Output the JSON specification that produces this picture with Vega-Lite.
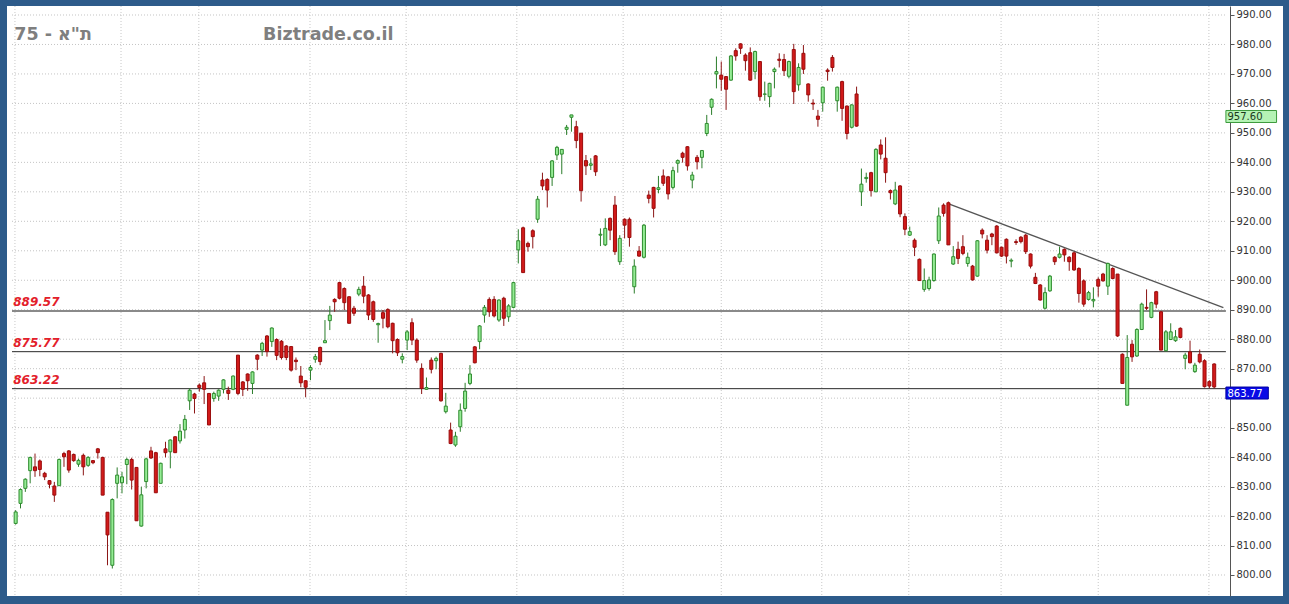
{
 "$schema": "https://vega.github.io/schema/vega-lite/v6.json",
 "width": 1276, "height": 590,
 "autosize": {"type": "none"},
 "padding": {"left": 7, "top": 6, "right": 6, "bottom": 8},
 "background": "#2d5b8a",
 "config": {"view": {"fill": "white", "stroke": null}, "font": "DejaVu Sans"},
 "datasets": {
  "candles": [
{"i":1,"o":817.5,"h":822.0,"l":817.1,"c":821.4},
{"i":2,"o":824.3,"h":829.4,"l":822.6,"c":829.0},
{"i":3,"o":829.4,"h":832.8,"l":828.2,"c":832.5},
{"i":4,"o":835.4,"h":840.1,"l":831.1,"c":839.9},
{"i":5,"o":836.7,"h":841.2,"l":833.3,"c":835.4},
{"i":6,"o":838.7,"h":839.2,"l":833.5,"c":835.8},
{"i":7,"o":834.5,"h":835.0,"l":832.2,"c":833.3},
{"i":8,"o":832.0,"h":832.2,"l":829.4,"c":830.8},
{"i":9,"o":830.2,"h":831.6,"l":824.8,"c":827.1},
{"i":10,"o":830.3,"h":839.5,"l":830.3,"c":839.2},
{"i":11,"o":841.2,"h":841.8,"l":836.7,"c":840.1},
{"i":12,"o":842.1,"h":842.4,"l":834.7,"c":835.6},
{"i":13,"o":840.9,"h":841.2,"l":838.4,"c":838.8},
{"i":14,"o":837.6,"h":839.5,"l":836.7,"c":838.9},
{"i":15,"o":840.6,"h":841.2,"l":833.8,"c":836.7},
{"i":16,"o":837.2,"h":840.3,"l":836.7,"c":839.9},
{"i":17,"o":838.8,"h":839.0,"l":837.6,"c":838.1},
{"i":18,"o":842.8,"h":843.1,"l":839.5,"c":841.5},
{"i":19,"o":839.9,"h":840.1,"l":827.1,"c":827.1},
{"i":20,"o":821.3,"h":821.3,"l":803.3,"c":813.6},
{"i":21,"o":803.3,"h":826.0,"l":802.2,"c":825.6},
{"i":22,"o":831.1,"h":836.5,"l":826.0,"c":833.9},
{"i":23,"o":831.3,"h":835.0,"l":827.7,"c":833.3},
{"i":24,"o":837.5,"h":839.8,"l":830.8,"c":839.2},
{"i":25,"o":839.2,"h":839.8,"l":829.0,"c":832.2},
{"i":26,"o":836.5,"h":836.5,"l":818.4,"c":818.4},
{"i":27,"o":816.6,"h":829.9,"l":816.4,"c":827.2},
{"i":28,"o":831.7,"h":839.8,"l":829.4,"c":839.4},
{"i":29,"o":842.1,"h":843.5,"l":839.4,"c":839.7},
{"i":30,"o":841.5,"h":841.8,"l":827.9,"c":827.9},
{"i":31,"o":831.1,"h":838.1,"l":831.1,"c":837.9},
{"i":32,"o":842.8,"h":845.2,"l":839.9,"c":841.5},
{"i":33,"o":841.8,"h":846.0,"l":836.2,"c":845.8},
{"i":34,"o":846.9,"h":847.1,"l":841.5,"c":841.5},
{"i":35,"o":845.5,"h":851.2,"l":844.6,"c":848.8},
{"i":36,"o":849.2,"h":854.3,"l":846.3,"c":852.8},
{"i":37,"o":859.1,"h":863.3,"l":856.0,"c":862.7},
{"i":38,"o":861.4,"h":861.8,"l":854.8,"c":859.9},
{"i":39,"o":864.4,"h":865.0,"l":862.2,"c":863.6},
{"i":40,"o":865.2,"h":867.5,"l":858.0,"c":863.0},
{"i":41,"o":861.6,"h":861.6,"l":850.9,"c":850.9},
{"i":42,"o":859.9,"h":862.2,"l":858.8,"c":861.6},
{"i":43,"o":860.7,"h":863.0,"l":859.1,"c":862.7},
{"i":44,"o":863.0,"h":866.4,"l":861.6,"c":866.2},
{"i":45,"o":862.7,"h":863.9,"l":859.4,"c":861.6},
{"i":46,"o":863.0,"h":867.7,"l":862.7,"c":867.5},
{"i":47,"o":874.6,"h":874.6,"l":861.0,"c":861.6},
{"i":48,"o":865.5,"h":865.8,"l":860.7,"c":863.0},
{"i":49,"o":868.2,"h":868.4,"l":862.5,"c":865.9},
{"i":50,"o":865.0,"h":869.1,"l":861.4,"c":868.9},
{"i":51,"o":874.6,"h":874.9,"l":869.5,"c":873.2},
{"i":52,"o":876.3,"h":879.1,"l":874.3,"c":878.6},
{"i":53,"o":881.1,"h":881.4,"l":874.1,"c":875.8},
{"i":54,"o":879.2,"h":884.0,"l":877.4,"c":883.8},
{"i":55,"o":879.9,"h":880.3,"l":872.9,"c":874.5},
{"i":56,"o":879.3,"h":879.7,"l":873.1,"c":873.8},
{"i":57,"o":877.7,"h":878.0,"l":872.9,"c":873.8},
{"i":58,"o":877.5,"h":877.7,"l":869.0,"c":869.5},
{"i":59,"o":872.9,"h":873.8,"l":869.5,"c":872.4},
{"i":60,"o":867.5,"h":870.9,"l":863.7,"c":865.2},
{"i":61,"o":865.9,"h":866.1,"l":860.3,"c":863.7},
{"i":62,"o":869.5,"h":871.2,"l":866.1,"c":870.4},
{"i":63,"o":873.2,"h":875.0,"l":872.0,"c":874.1},
{"i":64,"o":877.2,"h":877.5,"l":871.2,"c":872.4},
{"i":65,"o":878.8,"h":886.5,"l":878.8,"c":879.5},
{"i":66,"o":886.3,"h":891.3,"l":883.1,"c":888.2},
{"i":67,"o":893.5,"h":893.9,"l":889.3,"c":892.7},
{"i":68,"o":899.2,"h":899.5,"l":893.5,"c":893.9},
{"i":69,"o":897.2,"h":897.6,"l":889.9,"c":892.4},
{"i":70,"o":894.4,"h":894.6,"l":885.4,"c":885.4},
{"i":71,"o":890.5,"h":891.3,"l":887.9,"c":888.8},
{"i":72,"o":895.3,"h":897.8,"l":894.6,"c":896.9},
{"i":73,"o":898.0,"h":901.4,"l":892.2,"c":894.6},
{"i":74,"o":895.0,"h":895.3,"l":886.5,"c":888.2},
{"i":75,"o":892.7,"h":893.1,"l":885.9,"c":886.7},
{"i":76,"o":884.9,"h":885.6,"l":878.8,"c":885.3},
{"i":77,"o":889.0,"h":889.9,"l":883.7,"c":887.1},
{"i":78,"o":890.1,"h":890.5,"l":883.7,"c":884.2},
{"i":79,"o":885.4,"h":885.6,"l":875.2,"c":879.5},
{"i":80,"o":879.9,"h":880.3,"l":874.3,"c":875.4},
{"i":81,"o":873.2,"h":875.2,"l":871.8,"c":874.1},
{"i":82,"o":879.7,"h":883.1,"l":876.3,"c":882.5},
{"i":83,"o":885.6,"h":887.1,"l":878.0,"c":879.7},
{"i":84,"o":879.7,"h":880.3,"l":872.0,"c":872.9},
{"i":85,"o":870.1,"h":871.8,"l":861.4,"c":863.3},
{"i":86,"o":863.0,"h":867.0,"l":862.8,"c":863.6},
{"i":87,"o":872.9,"h":873.8,"l":868.4,"c":869.8},
{"i":88,"o":872.7,"h":874.1,"l":869.8,"c":873.5},
{"i":89,"o":875.2,"h":875.4,"l":858.8,"c":859.1},
{"i":90,"o":855.4,"h":861.8,"l":854.8,"c":857.3},
{"i":91,"o":849.2,"h":851.7,"l":844.4,"c":844.6},
{"i":92,"o":844.1,"h":848.6,"l":843.5,"c":847.1},
{"i":93,"o":850.3,"h":858.2,"l":848.6,"c":855.9},
{"i":94,"o":856.5,"h":865.2,"l":855.4,"c":862.4},
{"i":95,"o":865.0,"h":871.2,"l":864.4,"c":868.2},
{"i":96,"o":877.4,"h":877.7,"l":871.8,"c":872.0},
{"i":97,"o":879.2,"h":884.8,"l":876.6,"c":884.5},
{"i":98,"o":888.2,"h":891.6,"l":885.6,"c":890.8},
{"i":99,"o":893.5,"h":894.2,"l":887.6,"c":889.3},
{"i":100,"o":893.5,"h":894.6,"l":887.4,"c":887.9},
{"i":101,"o":886.5,"h":893.5,"l":885.9,"c":893.3},
{"i":102,"o":893.9,"h":894.4,"l":884.5,"c":887.1},
{"i":103,"o":887.6,"h":891.9,"l":885.9,"c":891.3},
{"i":104,"o":890.8,"h":899.5,"l":890.5,"c":899.2},
{"i":105,"o":910.3,"h":917.3,"l":905.7,"c":913.4},
{"i":106,"o":917.8,"h":918.2,"l":902.6,"c":902.6},
{"i":107,"o":912.5,"h":913.1,"l":909.7,"c":911.4},
{"i":108,"o":916.8,"h":917.3,"l":910.8,"c":914.8},
{"i":109,"o":920.7,"h":928.6,"l":919.5,"c":927.5},
{"i":110,"o":934.0,"h":936.5,"l":930.6,"c":932.0},
{"i":111,"o":934.2,"h":934.6,"l":924.7,"c":930.6},
{"i":112,"o":934.9,"h":940.8,"l":932.0,"c":940.5},
{"i":113,"o":942.5,"h":945.6,"l":940.8,"c":945.1},
{"i":114,"o":942.8,"h":944.4,"l":936.0,"c":944.4},
{"i":115,"o":951.2,"h":952.7,"l":949.3,"c":951.9},
{"i":116,"o":955.3,"h":956.1,"l":950.4,"c":956.1},
{"i":117,"o":952.1,"h":954.1,"l":944.8,"c":947.4},
{"i":118,"o":949.9,"h":949.9,"l":926.7,"c":930.4},
{"i":119,"o":940.6,"h":942.5,"l":935.7,"c":938.8},
{"i":120,"o":939.0,"h":941.4,"l":937.4,"c":939.5},
{"i":121,"o":942.2,"h":942.5,"l":935.4,"c":936.8},
{"i":122,"o":915.3,"h":917.6,"l":911.6,"c":915.6},
{"i":123,"o":912.0,"h":921.0,"l":911.6,"c":917.6},
{"i":124,"o":921.0,"h":921.3,"l":913.6,"c":917.0},
{"i":125,"o":925.5,"h":928.6,"l":908.6,"c":909.7},
{"i":126,"o":906.3,"h":915.3,"l":905.2,"c":914.2},
{"i":127,"o":920.7,"h":921.0,"l":914.2,"c":918.7},
{"i":128,"o":920.7,"h":921.3,"l":911.4,"c":914.5},
{"i":129,"o":897.8,"h":907.1,"l":895.5,"c":904.8},
{"i":130,"o":909.9,"h":911.6,"l":908.0,"c":908.2},
{"i":131,"o":907.8,"h":919.1,"l":907.4,"c":918.7},
{"i":132,"o":928.9,"h":930.4,"l":926.1,"c":927.8},
{"i":133,"o":931.5,"h":931.7,"l":921.3,"c":924.4},
{"i":134,"o":930.8,"h":935.4,"l":929.5,"c":931.4},
{"i":135,"o":935.4,"h":937.6,"l":932.0,"c":932.9},
{"i":136,"o":935.1,"h":935.4,"l":927.4,"c":929.3},
{"i":137,"o":931.5,"h":938.5,"l":930.8,"c":937.2},
{"i":138,"o":939.7,"h":941.0,"l":936.5,"c":940.6},
{"i":139,"o":943.1,"h":943.6,"l":939.9,"c":941.7},
{"i":140,"o":945.3,"h":945.5,"l":937.2,"c":938.8},
{"i":141,"o":934.0,"h":936.8,"l":931.2,"c":935.7},
{"i":142,"o":941.7,"h":942.5,"l":937.6,"c":940.2},
{"i":143,"o":941.7,"h":944.2,"l":938.0,"c":944.0},
{"i":144,"o":949.8,"h":956.1,"l":948.9,"c":953.2},
{"i":145,"o":958.7,"h":961.7,"l":956.1,"c":961.4},
{"i":146,"o":970.0,"h":975.9,"l":965.1,"c":970.8},
{"i":147,"o":969.6,"h":974.2,"l":964.3,"c":968.2},
{"i":148,"o":969.1,"h":969.3,"l":957.8,"c":964.8},
{"i":149,"o":967.9,"h":976.4,"l":967.7,"c":976.1},
{"i":150,"o":977.9,"h":978.7,"l":974.5,"c":976.1},
{"i":151,"o":980.2,"h":980.4,"l":976.8,"c":978.7},
{"i":152,"o":976.4,"h":977.0,"l":971.1,"c":974.5},
{"i":153,"o":977.2,"h":979.0,"l":967.7,"c":967.9},
{"i":154,"o":970.8,"h":977.9,"l":968.2,"c":977.6},
{"i":155,"o":974.2,"h":974.2,"l":960.9,"c":962.3},
{"i":156,"o":963.1,"h":967.4,"l":960.9,"c":963.2},
{"i":157,"o":962.3,"h":967.0,"l":958.7,"c":966.8},
{"i":158,"o":970.8,"h":972.2,"l":965.1,"c":971.6},
{"i":159,"o":975.0,"h":977.0,"l":972.2,"c":974.6},
{"i":160,"o":974.9,"h":976.8,"l":969.3,"c":971.1},
{"i":161,"o":969.2,"h":974.5,"l":968.5,"c":974.2},
{"i":162,"o":978.3,"h":980.2,"l":959.8,"c":964.0},
{"i":163,"o":966.3,"h":973.6,"l":964.3,"c":972.2},
{"i":164,"o":977.0,"h":979.8,"l":970.0,"c":971.6},
{"i":165,"o":966.6,"h":966.8,"l":960.6,"c":962.9},
{"i":166,"o":960.1,"h":961.4,"l":957.8,"c":959.8},
{"i":167,"o":955.7,"h":957.8,"l":952.1,"c":954.6},
{"i":168,"o":960.2,"h":965.7,"l":957.2,"c":965.5},
{"i":169,"o":971.3,"h":971.9,"l":967.7,"c":970.8},
{"i":170,"o":975.6,"h":976.4,"l":970.8,"c":972.2},
{"i":171,"o":960.9,"h":965.7,"l":957.2,"c":965.5},
{"i":172,"o":967.4,"h":967.7,"l":954.1,"c":958.3},
{"i":173,"o":959.1,"h":959.3,"l":947.8,"c":949.8},
{"i":174,"o":951.9,"h":959.7,"l":951.5,"c":959.5},
{"i":175,"o":963.2,"h":965.7,"l":952.1,"c":952.3},
{"i":176,"o":930.0,"h":937.9,"l":925.2,"c":932.6},
{"i":177,"o":934.5,"h":936.5,"l":933.1,"c":934.9},
{"i":178,"o":936.5,"h":936.8,"l":928.4,"c":930.4},
{"i":179,"o":930.0,"h":944.8,"l":930.0,"c":944.4},
{"i":180,"o":945.9,"h":947.8,"l":941.0,"c":942.8},
{"i":181,"o":941.4,"h":948.5,"l":933.1,"c":936.5},
{"i":182,"o":930.4,"h":930.8,"l":927.4,"c":929.7},
{"i":183,"o":925.9,"h":933.4,"l":925.5,"c":930.6},
{"i":184,"o":932.0,"h":932.3,"l":921.4,"c":922.5},
{"i":185,"o":921.6,"h":922.7,"l":915.3,"c":917.3},
{"i":186,"o":915.3,"h":918.2,"l":915.0,"c":916.5},
{"i":187,"o":913.6,"h":914.2,"l":908.2,"c":911.2},
{"i":188,"o":907.1,"h":907.4,"l":899.9,"c":899.9},
{"i":189,"o":896.9,"h":904.0,"l":896.1,"c":899.9},
{"i":190,"o":897.2,"h":901.2,"l":896.5,"c":900.1},
{"i":191,"o":899.9,"h":909.1,"l":899.5,"c":908.9},
{"i":192,"o":913.4,"h":924.7,"l":912.3,"c":921.8},
{"i":193,"o":925.5,"h":926.1,"l":921.6,"c":922.7},
{"i":194,"o":926.3,"h":926.7,"l":912.0,"c":912.0},
{"i":195,"o":905.5,"h":911.6,"l":905.2,"c":908.0},
{"i":196,"o":910.5,"h":913.1,"l":905.5,"c":907.4},
{"i":197,"o":911.4,"h":915.3,"l":908.5,"c":909.1},
{"i":198,"o":905.7,"h":909.4,"l":904.6,"c":907.8},
{"i":199,"o":904.8,"h":905.2,"l":899.9,"c":900.1},
{"i":200,"o":901.4,"h":913.6,"l":901.2,"c":913.4},
{"i":201,"o":917.0,"h":917.6,"l":914.2,"c":915.7},
{"i":202,"o":913.6,"h":915.3,"l":909.1,"c":910.2},
{"i":203,"o":915.7,"h":916.1,"l":911.9,"c":914.8},
{"i":204,"o":918.4,"h":918.7,"l":909.1,"c":909.3},
{"i":205,"o":911.2,"h":911.4,"l":907.9,"c":908.2},
{"i":206,"o":913.9,"h":914.2,"l":905.7,"c":908.2},
{"i":207,"o":906.5,"h":907.4,"l":904.4,"c":906.8},
{"i":208,"o":913.1,"h":913.9,"l":912.0,"c":912.8},
{"i":209,"o":914.6,"h":915.0,"l":912.5,"c":913.1},
{"i":210,"o":915.3,"h":915.7,"l":908.9,"c":909.7},
{"i":211,"o":908.9,"h":909.1,"l":904.0,"c":904.8},
{"i":212,"o":901.0,"h":902.5,"l":898.7,"c":898.9},
{"i":213,"o":898.4,"h":898.7,"l":893.1,"c":893.3},
{"i":214,"o":890.5,"h":897.6,"l":890.1,"c":895.8},
{"i":215,"o":896.4,"h":901.8,"l":896.1,"c":901.4},
{"i":216,"o":907.8,"h":908.2,"l":905.2,"c":906.3},
{"i":217,"o":907.8,"h":911.4,"l":907.4,"c":908.9},
{"i":218,"o":910.5,"h":910.8,"l":906.3,"c":908.6},
{"i":219,"o":907.8,"h":908.2,"l":903.2,"c":906.3},
{"i":220,"o":909.3,"h":909.7,"l":903.2,"c":903.5},
{"i":221,"o":904.0,"h":904.4,"l":892.4,"c":895.5},
{"i":222,"o":899.8,"h":900.3,"l":891.0,"c":891.9},
{"i":223,"o":893.5,"h":896.4,"l":893.1,"c":895.8},
{"i":224,"o":893.0,"h":897.6,"l":890.8,"c":893.5},
{"i":225,"o":900.3,"h":901.0,"l":894.4,"c":898.0},
{"i":226,"o":902.1,"h":902.5,"l":899.5,"c":899.8},
{"i":227,"o":898.0,"h":906.0,"l":895.0,"c":905.7},
{"i":228,"o":904.0,"h":904.4,"l":900.3,"c":900.6},
{"i":229,"o":902.1,"h":902.1,"l":880.8,"c":881.1},
{"i":230,"o":874.9,"h":875.2,"l":865.0,"c":865.0},
{"i":231,"o":857.6,"h":881.4,"l":857.6,"c":873.8},
{"i":232,"o":878.3,"h":879.7,"l":872.3,"c":874.0},
{"i":233,"o":874.3,"h":883.7,"l":874.0,"c":883.3},
{"i":234,"o":883.3,"h":892.4,"l":883.1,"c":891.9},
{"i":235,"o":890.8,"h":896.9,"l":889.9,"c":890.5},
{"i":236,"o":887.4,"h":892.7,"l":887.1,"c":892.4},
{"i":237,"o":896.1,"h":896.4,"l":890.5,"c":891.9},
{"i":238,"o":889.3,"h":889.6,"l":876.3,"c":876.3},
{"i":239,"o":876.1,"h":883.1,"l":875.8,"c":882.5},
{"i":240,"o":879.9,"h":885.4,"l":879.7,"c":882.5},
{"i":241,"o":879.5,"h":883.1,"l":879.1,"c":880.8},
{"i":242,"o":883.7,"h":884.0,"l":880.3,"c":880.6},
{"i":243,"o":873.5,"h":875.4,"l":869.8,"c":874.6},
{"i":244,"o":875.7,"h":879.5,"l":871.8,"c":872.0},
{"i":245,"o":869.0,"h":872.0,"l":868.6,"c":871.2},
{"i":246,"o":874.9,"h":876.5,"l":871.8,"c":872.3},
{"i":247,"o":872.7,"h":873.2,"l":863.6,"c":863.9},
{"i":248,"o":865.6,"h":866.1,"l":863.3,"c":864.1},
{"i":249,"o":871.6,"h":871.8,"l":863.3,"c":863.8}
  ]
 },
 "layer": [
  {
   "data": {"values": [{"v":800},{"v":810},{"v":820},{"v":830},{"v":840},{"v":850},{"v":860},{"v":870},{"v":880},{"v":890},{"v":900},{"v":910},{"v":920},{"v":930},{"v":940},{"v":950},{"v":960},{"v":970},{"v":980},{"v":990}]},
   "mark": {"type": "rule", "color": "#c4c4c4", "strokeWidth": 1, "strokeDash": [1, 2]},
   "encoding": {
    "x": {"datum": 0.2404, "type": "quantitative", "scale": {"domain": [0.2404, 262.2], "nice": false, "zero": false}, "axis": null},
    "x2": {"datum": 251.42},
    "y": {"field": "v", "type": "quantitative", "scale": {"domain": [792.875, 993.05], "nice": false, "zero": false},
      "axis": {"orient": "right", "offset": -53, "title": null, "grid": false, "values": [800,810,820,830,840,850,870,880,890,900,910,920,930,940,950,960,970,980,990], "format": ".2f", "labelFont": "DejaVu Sans", "labelFontSize": 10, "labelColor": "#333333", "tickColor": "#555555", "tickSize": 4, "labelPadding": 2, "domainColor": "#555555", "labelBaseline": "middle"}}
   }
  },
  {
   "data": {"values": [{"g":0.85},{"g":22.8},{"g":38.9},{"g":61.9},{"g":81.8},{"g":104.7},{"g":126.7},{"g":147.0},{"g":167.8},{"g":185.8},{"g":204.9},{"g":225.0},{"g":247.9}]},
   "mark": {"type": "rule", "color": "#c8c8c8", "strokeWidth": 1, "strokeDash": [1, 2]},
   "encoding": {
    "x": {"field": "g", "type": "quantitative", "scale": {"domain": [0.2404, 262.2], "nice": false, "zero": false}, "axis": null}
   }
  },
  {
   "data": {"values": [{"price": 889.57}]},
   "mark": {"type": "rule", "color": "#8a8a8a", "strokeWidth": 2},
   "encoding": {
    "x": {"datum": 0.2404, "type": "quantitative", "scale": {"domain": [0.2404, 262.2], "nice": false, "zero": false}, "axis": null},
    "x2": {"datum": 251.42},
    "y": {"field": "price", "type": "quantitative", "scale": {"domain": [792.875, 993.05], "nice": false, "zero": false},
      "axis": {"orient": "right", "offset": -53, "title": null, "grid": false, "values": [800,810,820,830,840,850,870,880,890,900,910,920,930,940,950,960,970,980,990], "format": ".2f", "labelFont": "DejaVu Sans", "labelFontSize": 10, "labelColor": "#333333", "tickColor": "#555555", "tickSize": 4, "labelPadding": 2, "domainColor": "#555555", "labelBaseline": "middle"}}
   }
  },
  {
   "data": {"values": [{"price": 875.77}, {"price": 863.22}]},
   "mark": {"type": "rule", "color": "#2a2a2a", "strokeWidth": 1},
   "encoding": {
    "x": {"datum": 0.2404, "type": "quantitative", "scale": {"domain": [0.2404, 262.2], "nice": false, "zero": false}, "axis": null},
    "x2": {"datum": 251.42},
    "y": {"field": "price", "type": "quantitative", "scale": {"domain": [792.875, 993.05], "nice": false, "zero": false},
      "axis": {"orient": "right", "offset": -53, "title": null, "grid": false, "values": [800,810,820,830,840,850,870,880,890,900,910,920,930,940,950,960,970,980,990], "format": ".2f", "labelFont": "DejaVu Sans", "labelFontSize": 10, "labelColor": "#333333", "tickColor": "#555555", "tickSize": 4, "labelPadding": 2, "domainColor": "#555555", "labelBaseline": "middle"}}
   }
  },
  {
   "data": {"values": [{"price": 889.57}, {"price": 875.77}, {"price": 863.22}]},
   "mark": {"type": "text", "align": "left", "baseline": "alphabetic", "dy": -4.5, "font": "DejaVu Sans", "fontSize": 12, "fontWeight": "bold", "fontStyle": "italic", "color": "#e3202a"},
   "encoding": {
    "x": {"datum": 0.5, "type": "quantitative", "scale": {"domain": [0.2404, 262.2], "nice": false, "zero": false}, "axis": null},
    "y": {"field": "price", "type": "quantitative", "scale": {"domain": [792.875, 993.05], "nice": false, "zero": false},
      "axis": {"orient": "right", "offset": -53, "title": null, "grid": false, "values": [800,810,820,830,840,850,870,880,890,900,910,920,930,940,950,960,970,980,990], "format": ".2f", "labelFont": "DejaVu Sans", "labelFontSize": 10, "labelColor": "#333333", "tickColor": "#555555", "tickSize": 4, "labelPadding": 2, "domainColor": "#555555", "labelBaseline": "middle"}},
    "text": {"field": "price", "type": "quantitative", "format": ".2f"}
   }
  },
  {
   "data": {"values": [{"i0": 193.8, "p0": 926.1, "i1": 250.9, "p1": 890.7}]},
   "mark": {"type": "rule", "color": "#555555", "strokeWidth": 1.3},
   "encoding": {
    "x": {"field": "i0", "type": "quantitative", "scale": {"domain": [0.2404, 262.2], "nice": false, "zero": false}, "axis": null},
    "x2": {"field": "i1"},
    "y": {"field": "p0", "type": "quantitative", "scale": {"domain": [792.875, 993.05], "nice": false, "zero": false},
      "axis": {"orient": "right", "offset": -53, "title": null, "grid": false, "values": [800,810,820,830,840,850,870,880,890,900,910,920,930,940,950,960,970,980,990], "format": ".2f", "labelFont": "DejaVu Sans", "labelFontSize": 10, "labelColor": "#333333", "tickColor": "#555555", "tickSize": 4, "labelPadding": 2, "domainColor": "#555555", "labelBaseline": "middle"}},
    "y2": {"field": "p1"}
   }
  },
  {
   "data": {"name": "candles"},
   "mark": {"type": "rule", "strokeWidth": 1},
   "encoding": {
    "x": {"field": "i", "type": "quantitative", "scale": {"domain": [0.2404, 262.2], "nice": false, "zero": false}, "axis": null},
    "y": {"field": "l", "type": "quantitative", "scale": {"domain": [792.875, 993.05], "nice": false, "zero": false},
      "axis": {"orient": "right", "offset": -53, "title": null, "grid": false, "values": [800,810,820,830,840,850,870,880,890,900,910,920,930,940,950,960,970,980,990], "format": ".2f", "labelFont": "DejaVu Sans", "labelFontSize": 10, "labelColor": "#333333", "tickColor": "#555555", "tickSize": 4, "labelPadding": 2, "domainColor": "#555555", "labelBaseline": "middle"}},
    "y2": {"field": "h"},
    "color": {"condition": {"test": "datum.c >= datum.o", "value": "#2b7d2b"}, "value": "#8b1515"}
   }
  },
  {
   "data": {"name": "candles"},
   "mark": {"type": "bar", "width": 3, "strokeWidth": 1},
   "encoding": {
    "x": {"field": "i", "type": "quantitative", "scale": {"domain": [0.2404, 262.2], "nice": false, "zero": false}, "axis": null},
    "y": {"field": "o", "type": "quantitative", "scale": {"domain": [792.875, 993.05], "nice": false, "zero": false},
      "axis": {"orient": "right", "offset": -53, "title": null, "grid": false, "values": [800,810,820,830,840,850,870,880,890,900,910,920,930,940,950,960,970,980,990], "format": ".2f", "labelFont": "DejaVu Sans", "labelFontSize": 10, "labelColor": "#333333", "tickColor": "#555555", "tickSize": 4, "labelPadding": 2, "domainColor": "#555555", "labelBaseline": "middle"}},
    "y2": {"field": "c"},
    "fill": {"condition": {"test": "datum.c >= datum.o", "value": "#95ec95"}, "value": "#d21a1a"},
    "stroke": {"condition": {"test": "datum.c >= datum.o", "value": "#2e8b2e"}, "value": "#9a0c0c"}
   }
  },
  {
   "data": {"values": [{"label": "75 - ת\"א"}]},
   "mark": {"type": "text", "align": "left", "baseline": "alphabetic", "font": "DejaVu Sans", "fontSize": 17.5, "fontWeight": "bold", "color": "#7f7f7f"},
   "encoding": {
    "x": {"datum": 0.7, "type": "quantitative", "scale": {"domain": [0.2404, 262.2], "nice": false, "zero": false}, "axis": null},
    "y": {"datum": 981.5, "type": "quantitative", "scale": {"domain": [792.875, 993.05], "nice": false, "zero": false},
      "axis": {"orient": "right", "offset": -53, "title": null, "grid": false, "values": [800,810,820,830,840,850,870,880,890,900,910,920,930,940,950,960,970,980,990], "format": ".2f", "labelFont": "DejaVu Sans", "labelFontSize": 10, "labelColor": "#333333", "tickColor": "#555555", "tickSize": 4, "labelPadding": 2, "domainColor": "#555555", "labelBaseline": "middle"}},
    "text": {"field": "label"}
   }
  },
  {
   "data": {"values": [{"label": "Biztrade.co.il"}]},
   "mark": {"type": "text", "align": "left", "baseline": "alphabetic", "font": "DejaVu Sans", "fontSize": 17.5, "fontWeight": "bold", "color": "#7f7f7f"},
   "encoding": {
    "x": {"datum": 52.2, "type": "quantitative", "scale": {"domain": [0.2404, 262.2], "nice": false, "zero": false}, "axis": null},
    "y": {"datum": 981.5, "type": "quantitative", "scale": {"domain": [792.875, 993.05], "nice": false, "zero": false},
      "axis": {"orient": "right", "offset": -53, "title": null, "grid": false, "values": [800,810,820,830,840,850,870,880,890,900,910,920,930,940,950,960,970,980,990], "format": ".2f", "labelFont": "DejaVu Sans", "labelFontSize": 10, "labelColor": "#333333", "tickColor": "#555555", "tickSize": 4, "labelPadding": 2, "domainColor": "#555555", "labelBaseline": "middle"}},
    "text": {"field": "label"}
   }
  },
  {
   "data": {"values": [{"price": 957.6}]},
   "mark": {"type": "rect", "fill": "#b5f3b5", "stroke": "#3c9a3c", "strokeWidth": 1, "y2Offset": 12},
   "encoding": {
    "x": {"datum": 251.42, "type": "quantitative", "scale": {"domain": [0.2404, 262.2], "nice": false, "zero": false}, "axis": null},
    "x2": {"datum": 261.9},
    "y": {"field": "price", "type": "quantitative", "scale": {"domain": [792.875, 993.05], "nice": false, "zero": false},
      "axis": {"orient": "right", "offset": -53, "title": null, "grid": false, "values": [800,810,820,830,840,850,870,880,890,900,910,920,930,940,950,960,970,980,990], "format": ".2f", "labelFont": "DejaVu Sans", "labelFontSize": 10, "labelColor": "#333333", "tickColor": "#555555", "tickSize": 4, "labelPadding": 2, "domainColor": "#555555", "labelBaseline": "middle"}},
    "y2": {"field": "price"}
   }
  },
  {
   "data": {"values": [{"price": 957.6}]},
   "mark": {"type": "text", "align": "left", "baseline": "middle", "dy": 6.5, "font": "DejaVu Sans", "fontSize": 10, "color": "#1a3a1a"},
   "encoding": {
    "x": {"datum": 251.75, "type": "quantitative", "scale": {"domain": [0.2404, 262.2], "nice": false, "zero": false}, "axis": null},
    "y": {"field": "price", "type": "quantitative", "scale": {"domain": [792.875, 993.05], "nice": false, "zero": false},
      "axis": {"orient": "right", "offset": -53, "title": null, "grid": false, "values": [800,810,820,830,840,850,870,880,890,900,910,920,930,940,950,960,970,980,990], "format": ".2f", "labelFont": "DejaVu Sans", "labelFontSize": 10, "labelColor": "#333333", "tickColor": "#555555", "tickSize": 4, "labelPadding": 2, "domainColor": "#555555", "labelBaseline": "middle"}},
    "text": {"field": "price", "type": "quantitative", "format": ".2f"}
   }
  },
  {
   "data": {"values": [{"price": 863.77}]},
   "mark": {"type": "rect", "fill": "#0a0ae6", "stroke": "#0000a0", "strokeWidth": 1, "y2Offset": 12},
   "encoding": {
    "x": {"datum": 251.42, "type": "quantitative", "scale": {"domain": [0.2404, 262.2], "nice": false, "zero": false}, "axis": null},
    "x2": {"datum": 260.2},
    "y": {"field": "price", "type": "quantitative", "scale": {"domain": [792.875, 993.05], "nice": false, "zero": false},
      "axis": {"orient": "right", "offset": -53, "title": null, "grid": false, "values": [800,810,820,830,840,850,870,880,890,900,910,920,930,940,950,960,970,980,990], "format": ".2f", "labelFont": "DejaVu Sans", "labelFontSize": 10, "labelColor": "#333333", "tickColor": "#555555", "tickSize": 4, "labelPadding": 2, "domainColor": "#555555", "labelBaseline": "middle"}},
    "y2": {"field": "price"}
   }
  },
  {
   "data": {"values": [{"price": 863.77}]},
   "mark": {"type": "text", "align": "left", "baseline": "middle", "dy": 6.5, "font": "DejaVu Sans", "fontSize": 10, "color": "#ffffff"},
   "encoding": {
    "x": {"datum": 251.75, "type": "quantitative", "scale": {"domain": [0.2404, 262.2], "nice": false, "zero": false}, "axis": null},
    "y": {"field": "price", "type": "quantitative", "scale": {"domain": [792.875, 993.05], "nice": false, "zero": false},
      "axis": {"orient": "right", "offset": -53, "title": null, "grid": false, "values": [800,810,820,830,840,850,870,880,890,900,910,920,930,940,950,960,970,980,990], "format": ".2f", "labelFont": "DejaVu Sans", "labelFontSize": 10, "labelColor": "#333333", "tickColor": "#555555", "tickSize": 4, "labelPadding": 2, "domainColor": "#555555", "labelBaseline": "middle"}},
    "text": {"field": "price", "type": "quantitative", "format": ".2f"}
   }
  }
 ]
}
